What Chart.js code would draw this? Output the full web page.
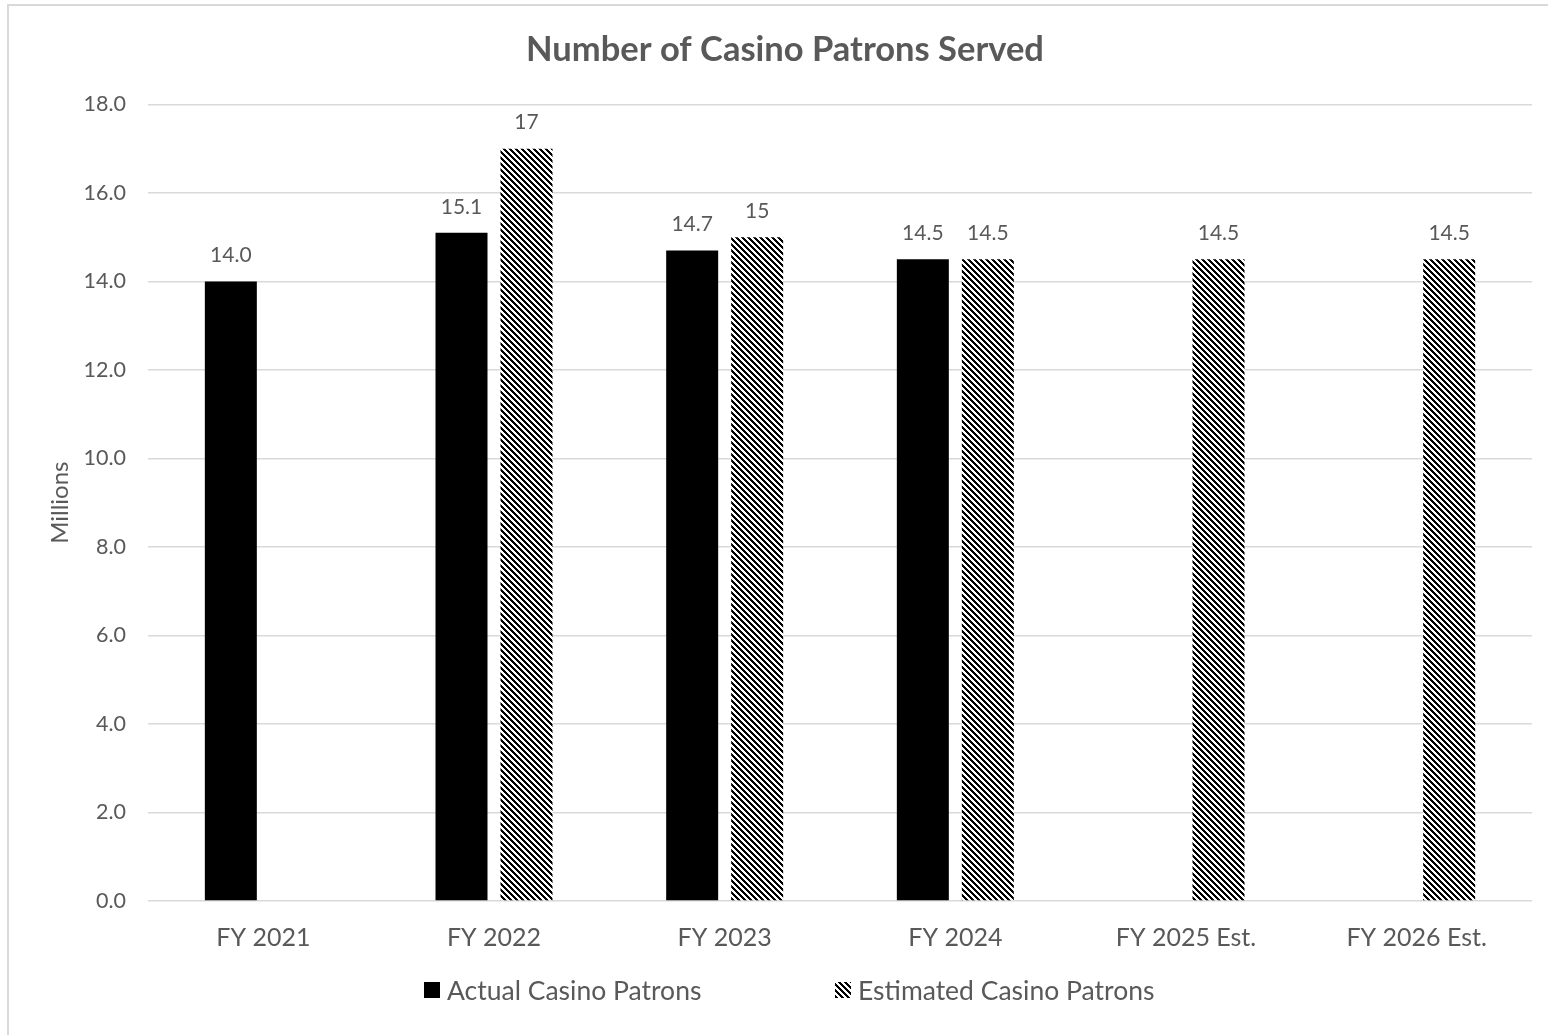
<!DOCTYPE html>
<html>
<head>
<meta charset="utf-8">
<script src="https://cdn.jsdelivr.net/npm/chart.js@4/dist/chart.umd.min.js"></script>
<style>
  html, body { margin: 0; padding: 0; background: #fff; }
  #wrap { position: relative; width: 1548px; height: 1035px; }
</style>
</head>
<body>
<div id="wrap"><canvas id="chart"></canvas></div>
<script>
const years = ['FY 2021', 'FY 2022', 'FY 2023', 'FY 2024', 'FY 2025 Est.', 'FY 2026 Est.'];
const actualPatrons = [14.0, 15.1, 14.7, 14.5, null, null];
const estimatedPatrons = [null, 17, 15, 14.5, 14.5, 14.5];
const yTicks = [0, 2, 4, 6, 8, 10, 12, 14, 16, 18];

const FONT = 'Lato, "Open Sans", sans-serif';
const TEXT = '#595959';

// dark downward diagonal hatch, like the Excel fill
function makeHatch() {
  const tile = document.createElement('canvas');
  tile.width = 6;
  tile.height = 6;
  const t = tile.getContext('2d');
  t.fillStyle = '#fff';
  t.fillRect(0, 0, 6, 6);
  t.fillStyle = '#000';
  for (let y = 0; y < 6; y++) {
    for (let x = 0; x < 6; x++) {
      if (((x - y) % 6 + 6) % 6 < 3) t.fillRect(x, y, 1, 1);
    }
  }
  return document.getElementById('chart').getContext('2d').createPattern(tile, 'repeat');
}
const hatch = makeHatch();

const frame = {
  id: 'frame',
  beforeDraw(chart) {
    const ctx = chart.ctx;
    ctx.save();
    ctx.strokeStyle = '#d9d9d9';
    ctx.lineWidth = 2;
    ctx.strokeRect(8, 5, chart.width + 20, chart.height + 20);
    ctx.restore();
  }
};

const valueLabels = {
  id: 'valueLabels',
  afterDatasetsDraw(chart) {
    const ctx = chart.ctx;
    ctx.save();
    ctx.font = '21px ' + FONT;
    ctx.fillStyle = TEXT;
    ctx.textAlign = 'center';
    ctx.textBaseline = 'middle';
    chart.data.datasets.forEach((ds, i) => {
      chart.getDatasetMeta(i).data.forEach((bar, j) => {
        const v = ds.data[j];
        if (v === null) return;
        const txt = i === 0 ? v.toFixed(1) : String(v);
        ctx.fillText(txt, bar.x, bar.y - 26);
      });
    });
    ctx.restore();
  }
};

const bottomLegend = {
  id: 'bottomLegend',
  afterDraw(chart) {
    const ctx = chart.ctx;
    const xs = [424, 835];
    const y = 990;
    ctx.save();
    ctx.font = '26.5px ' + FONT;
    ctx.textBaseline = 'middle';
    chart.data.datasets.forEach((ds, i) => {
      ctx.fillStyle = ds.backgroundColor;
      ctx.fillRect(xs[i], y - 8, 16, 16);
      ctx.fillStyle = TEXT;
      ctx.fillText(ds.label, xs[i] + 23, y + 1);
    });
    ctx.restore();
  }
};

new Chart(document.getElementById('chart'), {
  type: 'bar',
  data: {
    labels: years,
    datasets: [
      {
        label: 'Actual Casino Patrons',
        data: actualPatrons,
        backgroundColor: '#000000',
        barPercentage: 0.8,
        categoryPercentage: 0.5635
      },
      {
        label: 'Estimated Casino Patrons',
        data: estimatedPatrons,
        backgroundColor: hatch,
        barPercentage: 0.8,
        categoryPercentage: 0.5635
      }
    ]
  },
  options: {
    responsive: true,
    maintainAspectRatio: false,
    animation: false,
    layout: { padding: { left: 38, right: 16, top: 5, bottom: 54 } },
    plugins: {
      legend: { display: false },
      tooltip: { enabled: false },
      title: {
        display: true,
        text: 'Number of Casino Patrons Served',
        color: TEXT,
        font: { family: FONT, size: 34.5, weight: 'bold' },
        padding: { top: 24, bottom: 34 }
      }
    },
    scales: {
      x: {
        grid: { display: false, drawTicks: false },
        border: { display: false },
        ticks: { color: TEXT, font: { family: FONT, size: 25 }, padding: 22, maxRotation: 0 },
        afterFit(scale) { scale.height = 80; }
      },
      y: {
        min: 0,
        max: 18,
        afterBuildTicks(scale) { scale.ticks = yTicks.map(v => ({ value: v })); },
        grid: { color: '#d9d9d9', lineWidth: 1.5, drawTicks: false },
        border: { display: false },
        ticks: {
          color: TEXT,
          font: { family: FONT, size: 21.5 },
          padding: 22,
          callback: v => v.toFixed(1)
        },
        title: {
          display: true,
          text: 'Millions',
          color: TEXT,
          font: { family: FONT, size: 24 },
          padding: { top: 8, bottom: 0 }
        },
        afterFit(scale) { scale.width = 110; }
      }
    }
  },
  plugins: [frame, valueLabels, bottomLegend]
});
</script>
</body>
</html>
